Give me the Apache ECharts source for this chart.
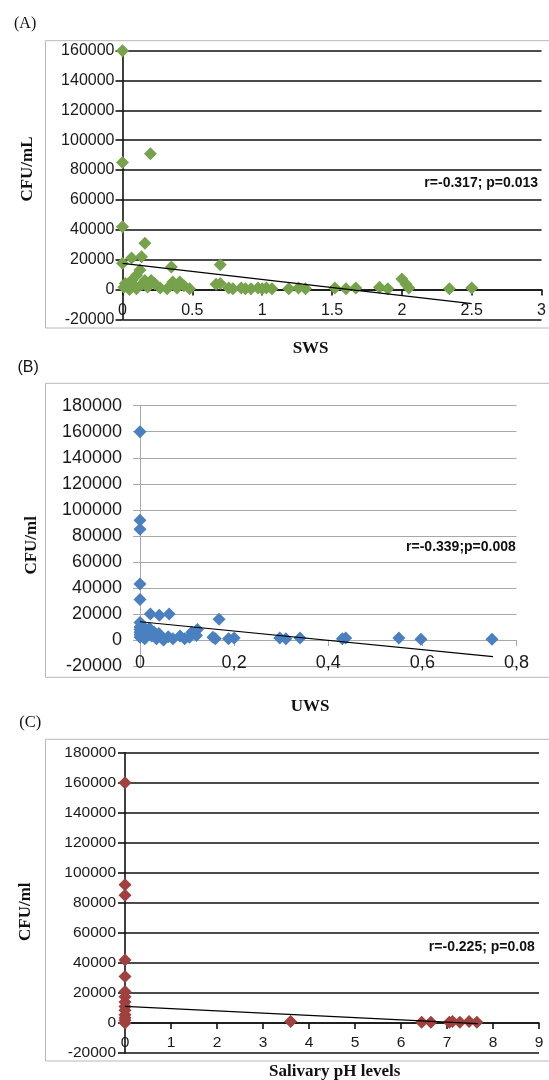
<!DOCTYPE html>
<html>
<head>
<meta charset="utf-8">
<style>
html,body{margin:0;padding:0;background:#fff;}
#c{width:549px;height:1080px;}
</style>
<script src="https://cdn.jsdelivr.net/npm/echarts@6/dist/echarts.min.js"></script>
</head>
<body>
<div id="c"></div>
<script>
// Panel A: SWS vs CFU/mL
var swsA = [0, 0, 0.2, 0, 0.16, 0, 0.065, 0.136, 0.70, 0.35, 0.02, 0.065, 0.10, 0.125, 0.16, 0.18, 0.05, 0.10, 0.01, 0.035, 0.085, 0.14, 0.205, 0.23, 0.27, 0.32, 0.36, 0.39, 0.41, 0.44, 0.48, 0.67, 0.70, 0.76, 0.79, 0.85, 0.88, 0.92, 0.97, 1.0, 1.03, 1.07, 1.19, 1.26, 1.31, 1.52, 1.60, 1.67, 1.84, 1.90, 2.0, 2.03, 2.05, 2.34, 2.5];
var cfuA = [160000, 85000, 91000, 42000, 31000, 17500, 21000, 22000, 16500, 15000, 4000, 6000, 9500, 13000, 6000, 1700, 0, 500, 1500, 3000, 2500, 3500, 6000, 4000, 1000, 500, 5000, 1000, 5000, 2500, 500, 3500, 4000, 1000, 500, 1000, 500, 500, 1000, 500, 1000, 500, 500, 1000, 500, 1000, 500, 1000, 1500, 500, 7000, 3500, 1000, 500, 1000];
var trendAx = [0, 2.5];
var trendAy = [17500, -9500];

// Panel B: UWS vs CFU/ml
var uwsB = [0, 0, 0, 0, 0, 0, 0.022, 0.041, 0.062, 0.168, 0, 0, 0, 0, 0, 0.005, 0.01, 0.01, 0.015, 0.02, 0.025, 0.03, 0.035, 0.04, 0.045, 0.05, 0.06, 0.07, 0.085, 0.095, 0.105, 0.11, 0.12, 0.122, 0.155, 0.16, 0.188, 0.2, 0.297, 0.31, 0.34, 0.43, 0.437, 0.55, 0.597, 0.748];
var cfuB = [160000, 92000, 85000, 43000, 31000, 13500, 20000, 19000, 20000, 16000, 10000, 8000, 6000, 4000, 2000, 11000, 7000, 1000, 4000, 9000, 3000, 6000, 1000, 5000, 2000, 0, 2500, 1000, 3000, 1000, 2000, 6000, 3500, 8000, 2000, 1000, 1000, 1500, 1500, 1000, 1500, 1000, 1500, 1500, 500, 500];
var trendBx = [0, 0.75];
var trendBy = [14000, -12800];

// Panel C: Salivary pH vs CFU/ml
var phC = [0, 0, 0, 0, 0, 0, 0, 0, 0, 0, 0, 0, 0, 0, 3.6, 6.45, 6.65, 7.05, 7.12, 7.28, 7.48, 7.65];
var cfuC = [160000, 92000, 85000, 42000, 31000, 21000, 17500, 14000, 11000, 8500, 5500, 3500, 1800, 0, 1000, 500, 500, 500, 1000, 500, 1000, 500];
var trendCx = [0, 7.67];
var trendCy = [11100, -400];

// Axis ranges [min, max, interval]
var xRangeA = [0, 3, 0.5], yRangeA = [-20000, 160000, 20000];
var xRangeB = [0, 0.8, 0.2], yRangeB = [-20000, 180000, 20000];
var xRangeC = [0, 9, 1], yRangeC = [-20000, 180000, 20000];

function pairs(xs, ys) { return xs.map(function (x, i) { return [x, ys[i]]; }); }

var SANS = 'Liberation Sans';
var SERIF = 'Liberation Serif';
var DARK = '#1a1a1a';

var grids = [
  {left: 122.5, top: 50.7, width: 422, height: 268.6},
  {left: 140, top: 405.7, width: 376.5, height: 260.3},
  {left: 125, top: 752.7, width: 414, height: 300.3}
];
var lineCol = ['#111', '#a8a8a8', '#111'];
var lineW = [1.6, 1, 1.6];
var fs = [16, 18, 15.5];
var xr = [xRangeA, xRangeB, xRangeC];
var yr = [yRangeA, yRangeB, yRangeC];
var xMargin = [13, 14, 12];
var yMargin = [8, 18, 9];

var xAxes = [], yAxes = [];
for (var i = 0; i < 3; i++) {
  // shift the x axis (line, ticks, labels) up to the zero of the y axis
  var zeroOffset = -grids[i].height * (0 - yr[i][0]) / (yr[i][1] - yr[i][0]);
  xAxes.push({
    gridIndex: i, type: 'value', min: xr[i][0], max: xr[i][1], interval: xr[i][2],
    position: 'bottom', offset: zeroOffset,
    axisLine: {show: true, onZero: false, lineStyle: {color: lineCol[i], width: lineW[i]}},
    axisTick: {show: true, inside: false, length: 6, lineStyle: {color: lineCol[i], width: lineW[i]}},
    axisLabel: {fontFamily: SANS, fontSize: fs[i], color: DARK, margin: xMargin[i],
      formatter: (i === 1) ? function (v) { return String(Math.round(v * 10) / 10).replace('.', ','); } : function (v) { return String(Math.round(v * 10) / 10); }},
    splitLine: {show: false}
  });
  yAxes.push({
    gridIndex: i, type: 'value', min: yr[i][0], max: yr[i][1], interval: yr[i][2],
    axisLine: {show: true, onZero: false, lineStyle: {color: lineCol[i], width: lineW[i]}},
    axisTick: {show: true, inside: false, length: 7, lineStyle: {color: lineCol[i], width: lineW[i]}},
    axisLabel: {fontFamily: SANS, fontSize: fs[i], color: DARK, margin: yMargin[i],
      formatter: function (v) { return String(v); }},
    splitLine: {show: true, lineStyle: {color: lineCol[i], width: lineW[i]}}
  });
}

var colors = ['#77a24c', '#4a80c0', '#a0403f'];
var scatterData = [pairs(swsA, cfuA), pairs(uwsB, cfuB), pairs(phC, cfuC)];
var trendData = [pairs(trendAx, trendAy), pairs(trendBx, trendBy), pairs(trendCx, trendCy)];
var series = [];
for (var j = 0; j < 3; j++) {
  series.push({
    type: 'scatter', xAxisIndex: j, yAxisIndex: j, data: scatterData[j],
    symbol: 'diamond', symbolSize: 13, clip: false, z: 2,
    itemStyle: {color: colors[j], opacity: 1}
  });
  series.push({
    type: 'line', xAxisIndex: j, yAxisIndex: j, data: trendData[j],
    symbol: 'none', clip: false, z: 3, silent: true,
    lineStyle: {color: '#000', width: 1.2}
  });
}

function txt(str, x, y, opts) {
  return {
    type: 'text', x: x, y: y, z: 10,
    rotation: opts.rot || 0,
    style: {
      text: str, fill: opts.color || DARK,
      font: (opts.weight || 'normal') + ' ' + opts.size + 'px "' + opts.family + '"',
      textAlign: opts.align || 'center', textVerticalAlign: 'middle'
    }
  };
}
function frame(y, h) {
  return {type: 'rect', z: 0, shape: {x: 45.5, y: y, width: 530, height: h},
    style: {fill: 'none', stroke: '#b8b8b8', lineWidth: 1}};
}

var graphics = [
  frame(40.7, 287.3), frame(383.3, 294), frame(739.3, 321.7),
  txt('(A)', 14, 24, {size: 16, family: SERIF, align: 'left', color: '#111'}),
  txt('CFU/mL', 28, 169, {size: 17, family: SERIF, weight: 'bold', rot: Math.PI / 2, color: '#111'}),
  txt('r=-0.317; p=0.013', 538, 182.7, {size: 14, family: SANS, weight: 'bold', align: 'right', color: '#111'}),
  txt('SWS', 310.6, 348.5, {size: 17, family: SERIF, weight: 'bold', color: '#111'}),
  txt('(B)', 17.5, 368, {size: 16, family: SANS, align: 'left', color: '#111'}),
  txt('CFU/ml', 31.5, 545.3, {size: 17, family: SERIF, weight: 'bold', rot: Math.PI / 2, color: '#111'}),
  txt('r=-0.339;p=0.008', 515.8, 546.7, {size: 14, family: SANS, weight: 'bold', align: 'right', color: '#111'}),
  txt('UWS', 310, 707, {size: 17, family: SERIF, weight: 'bold', color: '#111'}),
  txt('(C)', 19.3, 722.7, {size: 16.5, family: SERIF, align: 'left', color: '#111'}),
  txt('CFU/ml', 26, 911.7, {size: 17, family: SERIF, weight: 'bold', rot: Math.PI / 2, color: '#111'}),
  txt('r=-0.225; p=0.08', 534.7, 946.7, {size: 14, family: SANS, weight: 'bold', align: 'right', color: '#111'}),
  txt('Salivary pH levels', 334.7, 1071.7, {size: 17, family: SERIF, weight: 'bold', color: '#111'})
];

var chart = echarts.init(document.getElementById('c'), null, {renderer: 'canvas'});
chart.setOption({
  animation: false,
  backgroundColor: '#fff',
  grid: grids,
  xAxis: xAxes,
  yAxis: yAxes,
  series: series,
  graphic: graphics
});
</script>
</body>
</html>
